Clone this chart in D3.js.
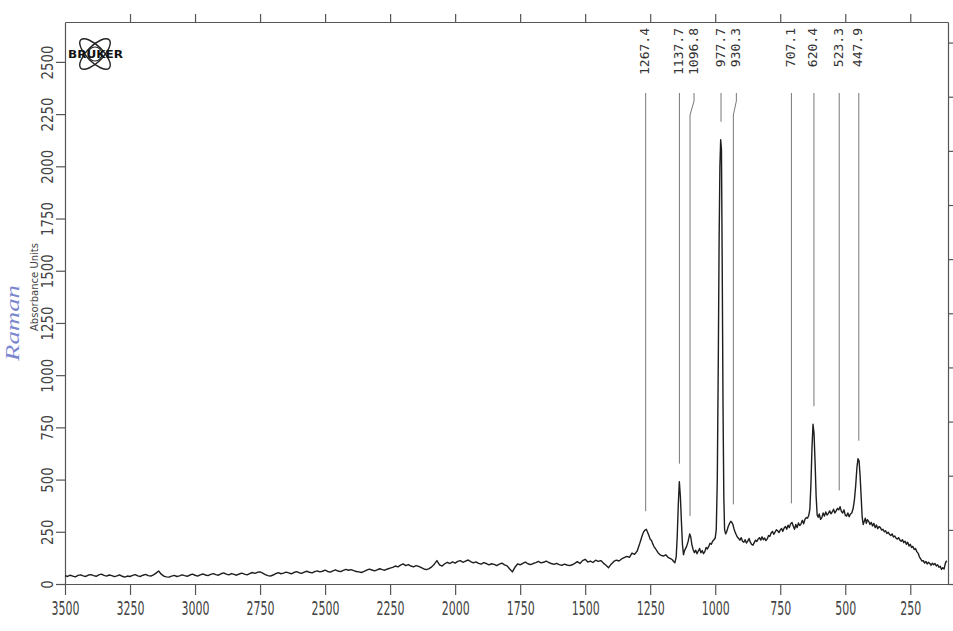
<!DOCTYPE html>
<html>
<head>
<meta charset="utf-8">
<script src="https://cdn.jsdelivr.net/npm/d3@7"></script>
<style>
  body { margin: 0; background: #fff; }
  svg { display: block; }
  .axis path, .axis line { stroke: #555; stroke-width: 1.2; }
  .axis text { fill: #444; font-family: "Liberation Sans Narrow", "DejaVu Sans Condensed", sans-serif; font-size: 19px; }
  .axis.y text { font-size: 16px; }
  .peak-label { fill: #333; font-family: "DejaVu Sans Mono", monospace; font-size: 13px; }
  .peak-line { stroke: #777; stroke-width: 1; fill: none; }
</style>
</head>
<body>
<svg id="chart"></svg>
<script>
const xTicks = [3500, 3250, 3000, 2750, 2500, 2250, 2000, 1750, 1500, 1250, 1000, 750, 500, 250];
const yTicks = [0, 250, 500, 750, 1000, 1250, 1500, 1750, 2000, 2250, 2500];
const rightTicks = [0, 1, 2, 3, 4, 5, 6, 7, 8, 9, 10];

const peakLabels = ['1267.4', '1137.7', '1096.8', '977.7', '930.3', '707.1', '620.4', '523.3', '447.9'];
const peakPositions = [1267.4, 1137.7, 1096.8, 977.7, 930.3, 707.1, 620.4, 523.3, 447.9];
const peakHeights = [262, 490, 240, 2127, 295, 300, 765, 362, 600];
// label nudges (px) where the plotter moved a label sideways
const labelShift = [0, 0, 4, 0, 3, 0, 0, 0, 0];

// wavenumber (cm-1), intensity
const spectrum = [
  [3500,40],[3490,36],[3480,42],[3470,38],[3460,34],[3450,41],[3440,44],[3430,39],[3420,36],[3410,43],
  [3400,45],[3390,40],[3380,37],[3370,44],[3360,47],[3350,41],[3340,38],[3330,43],[3320,40],[3310,35],
  [3300,39],[3290,44],[3280,37],[3270,33],[3260,38],[3250,36],[3240,41],[3230,45],[3220,39],[3210,36],
  [3200,42],[3190,46],[3180,40],[3170,38],[3160,44],[3150,52],[3140,62],[3130,47],[3120,38],[3110,34],
  [3100,33],[3090,38],[3080,41],[3070,36],[3060,39],[3050,44],[3040,40],[3030,37],[3020,43],[3010,47],
  [3000,42],[2990,38],[2980,44],[2970,48],[2960,43],[2950,40],[2940,46],[2930,50],[2920,45],[2910,42],
  [2900,49],[2890,53],[2880,47],[2870,44],[2860,50],[2850,46],[2840,42],[2830,48],[2820,52],[2810,47],
  [2800,44],[2790,50],[2780,55],[2770,51],[2760,56],[2750,58],[2740,52],[2730,45],[2720,40],[2710,38],
  [2700,43],[2690,50],[2680,54],[2670,49],[2660,52],[2650,57],[2640,53],[2630,49],[2620,55],[2610,59],
  [2600,54],[2590,51],[2580,57],[2570,61],[2560,56],[2550,53],[2540,59],[2530,63],[2520,58],[2510,61],
  [2500,66],[2490,60],[2480,57],[2470,63],[2460,68],[2450,62],[2440,59],[2430,65],[2420,70],[2410,66],
  [2400,69],[2390,64],[2380,60],[2370,58],[2360,55],[2350,60],[2340,66],[2330,71],[2320,67],[2310,63],
  [2300,68],[2290,73],[2280,69],[2270,66],[2260,72],[2250,76],[2240,80],[2230,86],[2220,82],[2210,90],
  [2200,96],[2190,88],[2180,93],[2170,86],[2160,82],[2150,88],[2140,84],[2130,78],[2120,72],[2110,69],
  [2100,74],[2090,82],[2080,95],[2070,112],[2060,92],[2050,86],[2040,97],[2030,104],[2020,98],[2010,106],
  [2000,100],[1990,108],[1980,112],[1970,104],[1960,110],[1950,115],[1940,107],[1930,101],[1920,106],[1910,99],
  [1900,95],[1890,102],[1880,98],[1870,92],[1860,97],[1850,94],[1840,88],[1830,95],[1820,100],[1810,92],
  [1800,87],[1790,72],[1780,58],[1770,80],[1760,96],[1750,92],[1740,99],[1730,105],[1720,97],[1710,93],
  [1700,98],[1690,102],[1680,108],[1670,101],[1660,104],[1650,110],[1640,103],[1630,98],[1620,94],[1610,99],
  [1600,93],[1590,89],[1580,95],[1570,91],[1560,88],[1550,92],[1540,99],[1530,107],[1520,98],[1510,112],
  [1500,118],[1490,105],[1480,110],[1470,103],[1460,114],[1450,108],[1440,112],[1430,100],[1420,90],[1410,78],
  [1400,95],[1390,108],[1380,114],[1370,110],[1360,120],[1350,126],[1340,132],[1330,128],[1320,148],[1310,142],
  [1300,158],[1290,195],[1280,235],[1275,250],[1270,258],[1265,262],[1260,248],[1255,232],[1250,214],[1245,208],
  [1240,192],[1235,178],[1230,170],[1220,150],[1210,138],[1200,134],[1190,140],[1180,126],[1170,120],[1165,116],
  [1160,108],[1155,102],[1150,130],[1146,230],[1142,380],[1138,490],[1134,420],[1130,300],[1126,190],[1122,140],
  [1118,160],[1110,180],[1104,205],[1098,240],[1094,225],[1090,190],[1085,165],[1080,150],[1075,162],[1070,145],
  [1065,158],[1060,170],[1055,150],[1050,160],[1045,145],[1040,155],[1035,175],[1030,168],[1025,180],[1020,195],
  [1015,190],[1010,205],[1005,212],[1000,220],[996,260],[992,500],[988,1100],[985,1650],[982,2000],[979,2127],
  [976,2080],[973,1500],[970,850],[967,420],[964,260],[960,240],[956,250],[950,275],[945,290],[940,300],
  [936,295],[932,285],[928,265],[924,250],[920,238],[915,225],[910,218],[905,210],[900,222],[895,205],
  [890,200],[885,212],[880,196],[875,205],[870,218],[865,200],[860,190],[855,186],[850,198],[845,210],
  [840,204],[835,215],[830,222],[825,210],[820,226],[815,212],[810,220],[805,208],[800,216],[795,232],
  [790,228],[785,244],[780,252],[775,238],[770,248],[765,260],[760,255],[755,246],[750,258],[745,266],
  [740,252],[735,268],[730,275],[725,262],[720,282],[715,270],[710,288],[705,295],[700,278],[695,262],
  [690,285],[685,270],[680,292],[675,280],[670,288],[665,305],[660,288],[655,310],[650,318],[645,315],
  [640,330],[636,360],[632,480],[628,650],[624,765],[620,720],[616,580],[612,420],[608,330],[604,320],
  [600,335],[595,310],[590,318],[585,340],[580,325],[575,345],[570,330],[565,338],[560,350],[555,336],
  [550,345],[545,358],[540,340],[535,350],[530,362],[525,355],[520,370],[515,348],[510,340],[505,355],
  [500,330],[495,325],[490,340],[485,322],[480,335],[475,340],[470,360],[465,400],[460,470],[455,560],
  [451,600],[447,590],[443,520],[439,420],[435,320],[431,285],[427,300],[423,315],[419,290],[415,308],
  [410,300],[405,285],[400,295],[395,278],[390,290],[385,270],[380,282],[375,265],[370,275],[365,270],
  [360,258],[355,262],[350,250],[345,255],[340,242],[335,248],[330,238],[325,232],[320,240],[315,225],
  [310,230],[305,220],[300,215],[295,222],[290,210],[285,205],[280,212],[275,198],[270,205],[265,190],
  [260,200],[255,182],[250,190],[245,175],[240,180],[235,165],[230,170],[225,155],[220,148],[215,130],
  [210,120],[205,110],[200,112],[195,100],[190,108],[185,96],[180,104],[175,98],[170,90],[165,100],
  [160,92],[155,98],[150,86],[145,92],[140,80],[135,85],[130,70],[125,78],[120,72],[115,100],[110,112]
];

const chartSize = { width: 953, height: 631 };
const margin = { left: 65, right: 5, top: 22, bottom: 47 };
const width = chartSize.width - margin.left - margin.right;
const height = chartSize.height - margin.top - margin.bottom;

const svg = d3.select('#chart')
  .attr('width', chartSize.width)
  .attr('height', chartSize.height);

const g = svg.append('g')
  .attr('transform', `translate(${margin.left},${margin.top})`);

const x = d3.scaleLinear().domain([3500, 105]).range([0, width]);
const y = d3.scaleLinear().domain([0, 2691]).range([height, 0]);
const yRight = d3.scaleLinear().domain([0, 10.38]).range([height, 0]);

// axes
const bottom = g.append('g')
  .attr('class', 'axis x')
  .attr('transform', `translate(0,${height})`)
  .call(d3.axisBottom(x).tickValues(xTicks).tickSize(11).tickSizeOuter(0).tickPadding(7).tickFormat(d => d));
bottom.selectAll('text')
  .attr('textLength', d => String(d).length * 7)
  .attr('lengthAdjust', 'spacingAndGlyphs');

g.append('g')
  .attr('class', 'axis x-top')
  .call(d3.axisTop(x).tickValues(xTicks.slice(1)).tickSize(8).tickSizeOuter(0).tickFormat(''));

const left = g.append('g')
  .attr('class', 'axis y')
  .call(d3.axisLeft(y).tickValues(yTicks).tickSize(9).tickSizeOuter(0).tickFormat(d => d));
left.selectAll('text')
  .attr('x', null).attr('dy', null)
  .attr('text-anchor', 'middle')
  .attr('dominant-baseline', 'central')
  .attr('transform', 'translate(-18,0) rotate(-90)')
  .attr('textLength', d => String(d).length * 8.5)
  .attr('lengthAdjust', 'spacingAndGlyphs');

g.append('g')
  .attr('class', 'axis y-right')
  .attr('transform', `translate(${width},0)`)
  .call(d3.axisRight(yRight).tickValues(rightTicks).tickSize(6).tickSizeOuter(0).tickFormat(''));

// axis title (printed) and the handwritten note beside it
g.append('text')
  .attr('transform', `translate(${34 - margin.left},${287 - margin.top}) rotate(-90)`)
  .attr('text-anchor', 'middle')
  .attr('dominant-baseline', 'central')
  .attr('fill', '#444')
  .style('font-family', '"DejaVu Sans Condensed", sans-serif')
  .style('font-size', '10px')
  .attr('textLength', 88)
  .attr('lengthAdjust', 'spacingAndGlyphs')
  .text('Absorbance Units');

g.append('text')
  .attr('transform', `translate(${13 - margin.left},${323 - margin.top}) rotate(-90)`)
  .attr('text-anchor', 'middle')
  .attr('dominant-baseline', 'central')
  .attr('fill', '#7c87d0')
  .style('font-family', '"Liberation Serif", serif')
  .style('font-style', 'italic')
  .style('font-size', '18px')
  .attr('textLength', 76)
  .attr('lengthAdjust', 'spacingAndGlyphs')
  .text('Raman');

// logo
const logo = g.append('g').attr('transform', 'translate(30,32)');
[45, -45].forEach(a => {
  logo.append('ellipse')
    .attr('rx', 20).attr('ry', 8)
    .attr('transform', `rotate(${a})`)
    .attr('fill', 'none').attr('stroke', '#222').attr('stroke-width', 1.4);
});
logo.append('circle').attr('r', 7).attr('fill', 'none').attr('stroke', '#222').attr('stroke-width', 1.2);
logo.append('text')
  .attr('x', -27).attr('y', 3.5)
  .attr('fill', '#111')
  .style('font-family', '"DejaVu Sans", sans-serif')
  .style('font-weight', '900')
  .style('font-size', '10px')
  .attr('textLength', 55)
  .attr('lengthAdjust', 'spacingAndGlyphs')
  .text('BRUKER');

// peak markers
const peaks = peakLabels.map((label, i) => ({
  label, pos: peakPositions[i], h: peakHeights[i], shift: labelShift[i]
}));
const lineTop = 71;
g.selectAll('path.peak-line').data(peaks).enter()
  .append('path')
  .attr('class', 'peak-line')
  .attr('d', p => {
    const xp = x(p.pos), xl = xp + p.shift, ye = y(p.h) - 18;
    return `M${xl},${lineTop}L${xl},${lineTop + 8}L${xp},${lineTop + 22}L${xp},${ye}`;
  });

g.selectAll('text.peak-label').data(peaks).enter()
  .append('text')
  .attr('class', 'peak-label')
  .attr('transform', p => `translate(${x(p.pos) + p.shift - 1},6) rotate(-90)`)
  .attr('text-anchor', 'end')
  .attr('dominant-baseline', 'central')
  .text(p => p.label);

// spectrum
const line = d3.line().x(d => x(d[0])).y(d => y(d[1]));
g.append('path')
  .datum(spectrum)
  .attr('d', line)
  .attr('fill', 'none')
  .attr('stroke', '#1e1e1e')
  .attr('stroke-width', 1.4)
  .attr('stroke-linejoin', 'round');
</script>
</body>
</html>
